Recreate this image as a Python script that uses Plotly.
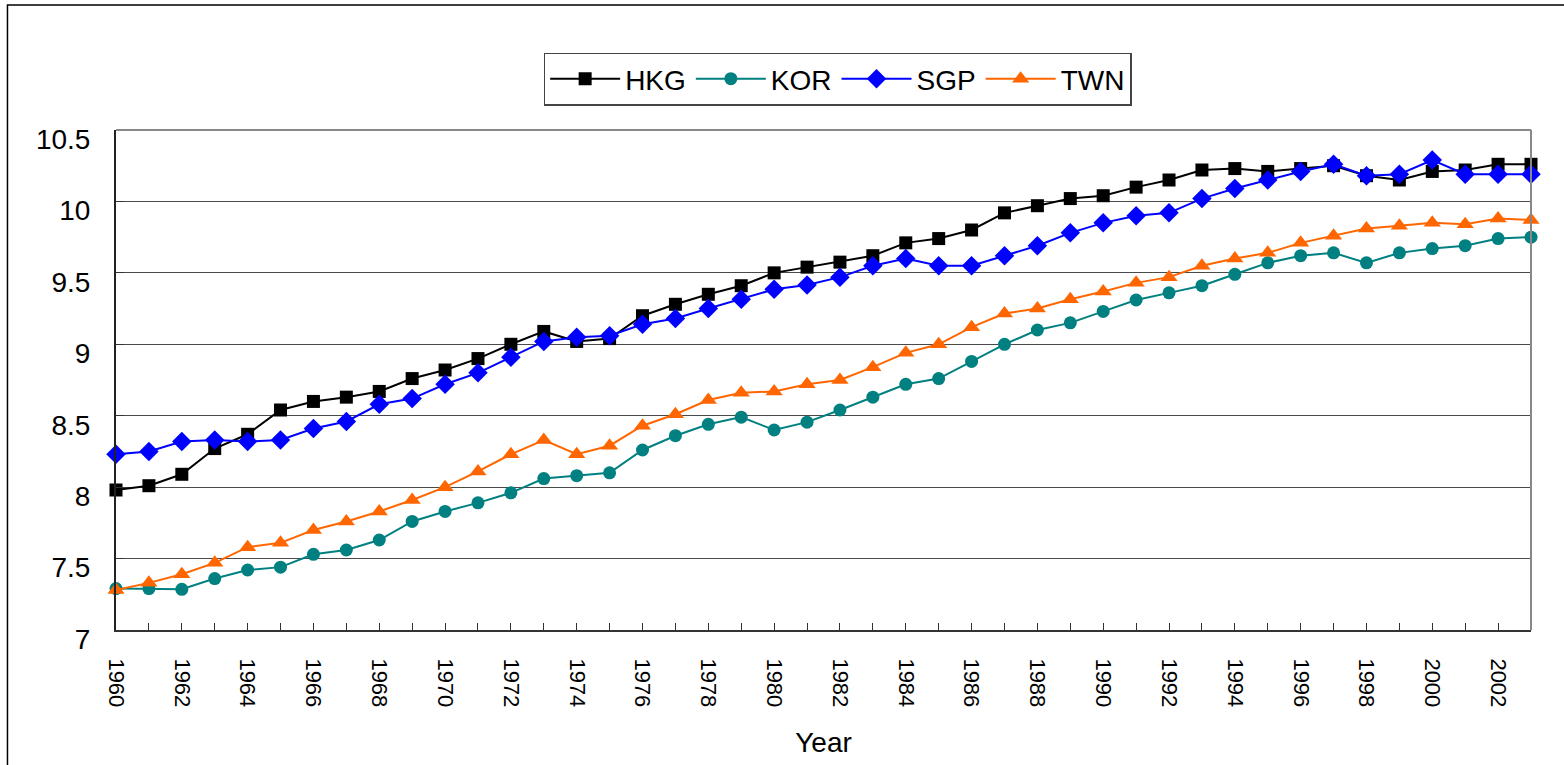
import plotly.graph_objects as go

years = list(range(1960, 2004))

hkg = [7.98, 8.01, 8.09, 8.27, 8.37, 8.54, 8.60, 8.63, 8.67, 8.76, 8.82, 8.90,
       9.00, 9.09, 9.02, 9.04, 9.20, 9.28, 9.35, 9.41, 9.50, 9.54, 9.575, 9.62,
       9.71, 9.74, 9.80, 9.92, 9.97, 10.02, 10.04, 10.10, 10.15, 10.22, 10.23,
       10.21, 10.23, 10.25, 10.18, 10.15, 10.21, 10.22, 10.26, 10.26]
kor = [7.29, 7.29, 7.285, 7.36, 7.42, 7.44, 7.53, 7.56, 7.63, 7.76, 7.83, 7.89,
       7.96, 8.06, 8.08, 8.10, 8.26, 8.36, 8.44, 8.49, 8.40, 8.455, 8.54, 8.63,
       8.72, 8.76, 8.88, 9.00, 9.10, 9.15, 9.23, 9.31, 9.36, 9.41, 9.49, 9.57,
       9.62, 9.64, 9.57, 9.64, 9.67, 9.69, 9.74, 9.75]
sgp = [8.23, 8.25, 8.32, 8.33, 8.32, 8.33, 8.41, 8.46, 8.58, 8.62, 8.72, 8.80,
       8.91, 9.02, 9.05, 9.06, 9.14, 9.18, 9.25, 9.315, 9.385, 9.415, 9.47, 9.55,
       9.60, 9.55, 9.55, 9.62, 9.69, 9.78, 9.85, 9.90, 9.92, 10.02, 10.09, 10.15,
       10.21, 10.26, 10.18, 10.19, 10.29, 10.19, 10.19, 10.19]
twn = [7.28, 7.33, 7.39, 7.47, 7.58, 7.61, 7.70, 7.76, 7.83, 7.91, 8.00, 8.11,
       8.23, 8.33, 8.23, 8.29, 8.43, 8.51, 8.61, 8.66, 8.67, 8.72, 8.75, 8.84,
       8.94, 9.00, 9.12, 9.215, 9.25, 9.315, 9.37, 9.43, 9.47, 9.55, 9.60, 9.64,
       9.71, 9.76, 9.81, 9.83, 9.85, 9.84, 9.88, 9.87]

series = [
    ("HKG", hkg, "#000000", "square", 13),
    ("KOR", kor, "#008080", "circle", 13),
    ("SGP", sgp, "#0000FF", "diamond", 15),
    ("TWN", twn, "#FF6600", "triangle-up", 15),
]

tick_text = [str(y) if y % 2 == 0 else "" for y in years]
y_ticks = [7, 7.5, 8, 8.5, 9, 9.5, 10, 10.5]
y_text = ["7", "7.5", "8", "8.5", "9", "9.5", "10", "10.5"]

FONT = "Liberation Sans, Arial, sans-serif"

fig = go.Figure()
for name, vals, color, sym, size in series:
    fig.add_trace(go.Scatter(
        x=years, y=vals, name=name, mode="lines+markers",
        line=dict(color=color, width=2),
        marker=dict(symbol=sym, size=size, color=color),
        cliponaxis=False,
    ))

fig.update_layout(
    width=1564, height=765,
    margin=dict(l=116, r=33, t=130, b=133),
    paper_bgcolor="white", plot_bgcolor="white",
    font=dict(family=FONT, color="black", size=26),
    showlegend=True,
    legend=dict(
        orientation="h", x=0.51, xanchor="center", y=1.155, yanchor="top",
        bordercolor="#444444", borderwidth=1.5, bgcolor="white",
        font=dict(size=28, family=FONT), itemwidth=70,
        traceorder="normal",
    ),
    xaxis=dict(
        range=[1960, 2003], tickmode="array", tickvals=years, ticktext=tick_text,
        tickangle=90, ticks="inside", ticklen=7, tickcolor="#333333",
        tickfont=dict(size=22, family=FONT), showgrid=False, zeroline=False,
        showline=True, linecolor="#333333", linewidth=2,
        ticklabelstandoff=22,
        title=dict(text="Year", font=dict(size=28, family=FONT), standoff=26),
    ),
    yaxis=dict(
        range=[7, 10.5], tickmode="array", tickvals=y_ticks, ticktext=y_text,
        ticks="inside", ticklen=8, tickcolor="#333333",
        tickfont=dict(size=28, family=FONT), showgrid=True,
        gridcolor="#4a4a4a", gridwidth=1, zeroline=False,
        showline=True, linecolor="#222222", linewidth=2,
        ticklabelstandoff=18, ticklabelshift=9,
    ),
    shapes=[
        dict(type="line", xref="paper", yref="paper", x0=0, x1=1, y0=1, y1=1,
             line=dict(color="#888888", width=2), layer="above"),
        dict(type="line", xref="paper", yref="paper", x0=1, x1=1, y0=0, y1=1,
             line=dict(color="#888888", width=2), layer="above"),
        dict(type="rect", xref="paper", yref="paper", x0=-0.0767, x1=1.2,
             y0=-0.5, y1=1.25, line=dict(color="black", width=1.5),
             fillcolor="rgba(0,0,0,0)", layer="above"),
    ],
)

fig.write_html("out.html")
